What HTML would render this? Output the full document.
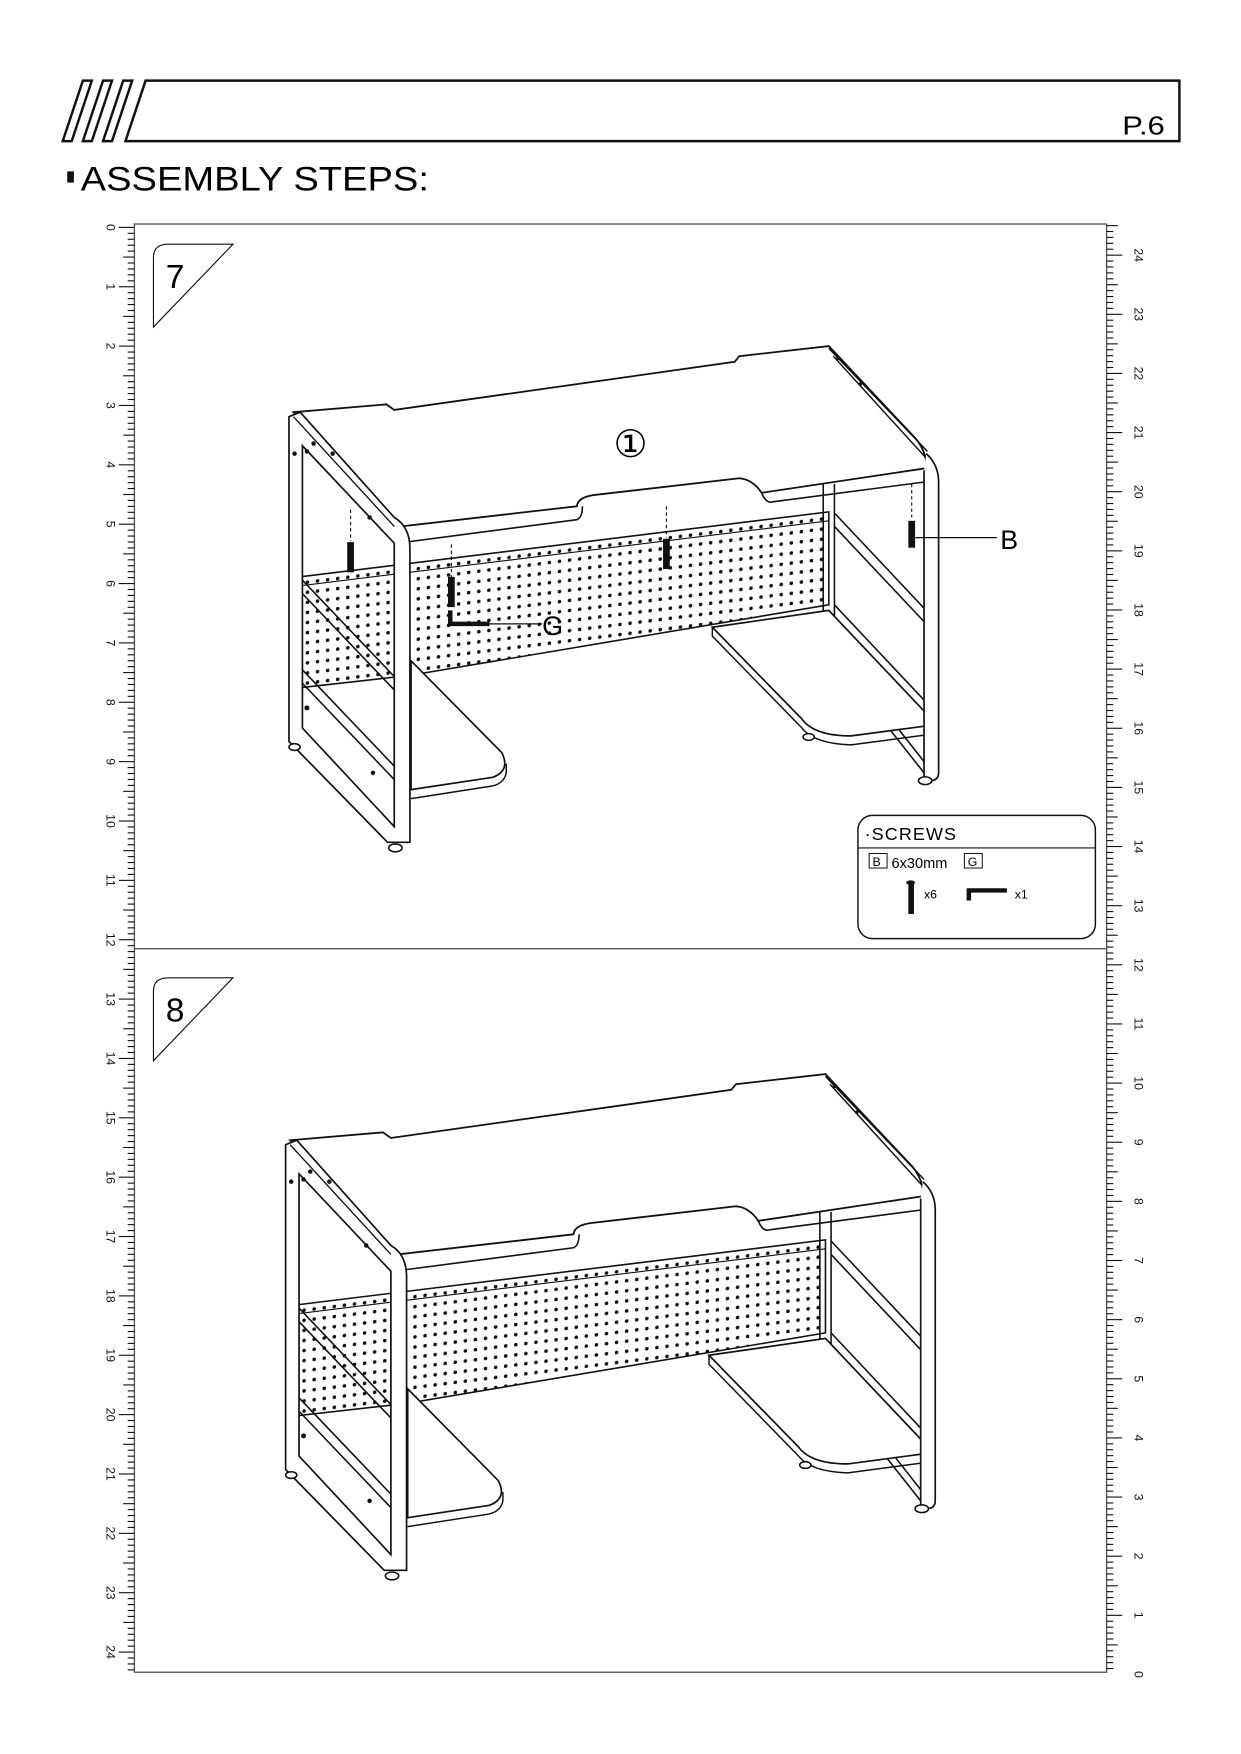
<!DOCTYPE html>
<html><head><meta charset="utf-8">
<style>
html,body{margin:0;padding:0;background:#fff;}
svg{display:block;}
text{font-family:"Liberation Sans",sans-serif;}
</style></head>
<body>
<svg id="s" width="1241" height="1754" viewBox="0 0 1108 1566" xmlns="http://www.w3.org/2000/svg">
<defs>
<pattern id="dots" width="9" height="9" patternUnits="userSpaceOnUse" patternTransform="skewY(-7)">
<circle cx="4.5" cy="4.5" r="1.6" fill="#111"/>
</pattern>
<g id="desk">
 <polygon points="268,515 740,457 740,540 366,603 268,614" fill="url(#dots)" stroke="#111" stroke-width="1.4"/>
 <line x1="268" y1="523" x2="740" y2="465" stroke="#111" stroke-width="1"/>
 <path d="M735,432 L735,640 M745,432 L745,640" stroke="#111" stroke-width="1.4" fill="none"/>
 <path d="M745,458 L825,543 M745,470 L825,555 M745,540 L825,625 M745,552 L825,637 M795,652 L825,690 M803,652 L825,680" stroke="#111" stroke-width="1.4" fill="none"/>
 <path d="M636,560 L740,545 L828,638 L828,648 L760,657 Q727,657 716,642 Z" fill="#fff" stroke="#111" stroke-width="1.5"/>
 <path d="M636,560 L636,568 L716,650 Q727,664 760,665 L828,656" fill="none" stroke="#111" stroke-width="1.3"/>
 <path d="M367,590 L448,672 Q456,688 440,694 L367,705 Z" fill="#fff" stroke="#111" stroke-width="1.5"/>
 <path d="M452,682 L452,690 Q450,700 438,702 L367,713" fill="none" stroke="#111" stroke-width="1.3"/>
 <path d="M262,368 L345,361 L352,366 L656,323 L660,318 L740,309 L818,392 Q828,405 827,418 L680,440 Q672,428 660,427 L530,442 Q516,444 515,452 L358,470 Z" fill="#fff" stroke="#111" stroke-width="1.6"/>
 <path d="M358,470 L362,484 L515,464 Q520,462 520,452 M680,440 Q684,450 690,448 L828,430" fill="none" stroke="#111" stroke-width="1.4"/>
 <path d="M827,405 Q838,415 838,430 L838,690 Q838,697 830,697 L827,697 Q825,697 825,690 L825,420" fill="#fff" stroke="#111" stroke-width="1.5"/>
 <path d="M740,311 L828,403 M744,318 L826,408" stroke="#111" stroke-width="1.3"/>
 <circle cx="748" cy="320" r="1.6" fill="#111"/><circle cx="768" cy="343" r="1.6" fill="#111"/>
 <path d="M258,372 L258,662 L346,752 L366,752 L366,490 Q366,470 352,462 L268,368 Z M270,398 L270,650 L352,738 L352,485 Z" fill="#fff" fill-rule="evenodd" stroke="#111" stroke-width="1.5"/>
 <path d="M262,372 L352,470" stroke="#111" stroke-width="1.2"/>
 <path d="M270,518 L352,604 M270,530 L352,616 M270,598 L352,684 M270,610 L352,696" stroke="#111" stroke-width="1.4"/>
 <circle cx="274" cy="403" r="2" fill="#111"/><circle cx="297" cy="405" r="2" fill="#111"/><circle cx="280" cy="396" r="2" fill="#111"/>
 <circle cx="330" cy="462" r="2" fill="#111"/><circle cx="274" cy="632" r="2.2" fill="#111"/><circle cx="333" cy="690" r="2" fill="#111"/><circle cx="263" cy="405" r="2" fill="#111"/>
 <ellipse cx="263" cy="667" rx="5" ry="3" fill="#fff" stroke="#111" stroke-width="1.4"/>
 <ellipse cx="353" cy="757" rx="6" ry="3.5" fill="#fff" stroke="#111" stroke-width="1.4"/>
 <ellipse cx="722" cy="658" rx="5" ry="3" fill="#fff" stroke="#111" stroke-width="1.4"/>
 <ellipse cx="826" cy="697" rx="6" ry="3.5" fill="#fff" stroke="#111" stroke-width="1.4"/>
</g>
</defs>

<!-- header -->
<g fill="#fff" stroke="#111" stroke-width="2.2">
<polygon points="130,72 1053,72 1053,126 112,126"/>
<polygon points="74,72 82,72 64,126 56,126"/>
<polygon points="92,72 100,72 82,126 74,126"/>
<polygon points="110,72 118,72 100,126 92,126"/>
</g>
<text x="1040" y="120" font-size="23" text-anchor="end" textLength="38" lengthAdjust="spacingAndGlyphs">P.6</text>
<rect x="60" y="153" width="6" height="10" fill="#111"/>
<text x="72" y="170" font-size="31" textLength="311" lengthAdjust="spacingAndGlyphs">ASSEMBLY STEPS:</text>

<rect x="120" y="200" width="868" height="1293" fill="none" stroke="#555" stroke-width="1.2"/>
<line x1="120" y1="847" x2="988" y2="847" stroke="#555" stroke-width="1.2"/>
<g id="ticks" stroke="#111" stroke-width="1"></g>
<g id="nums" font-size="11" fill="#111"></g>

<path d="M137,292 L137,230 Q137,218 150,218 L208,218 Z" fill="none" stroke="#111" stroke-width="1"/>
<text x="148" y="257" font-size="30">7</text>
<path d="M137,947 L137,885 Q137,873 150,873 L208,873 Z" fill="none" stroke="#111" stroke-width="1"/>
<text x="148" y="912" font-size="30">8</text>

<use href="#desk"/>
<use href="#desk" transform="translate(-3,650)"/>
<text x="563" y="408" font-size="34" text-anchor="middle">①</text>

<g stroke="#111" stroke-width="1" stroke-dasharray="3,2.5">
<line x1="313" y1="455" x2="313" y2="483"/>
<line x1="403" y1="486" x2="403" y2="515"/>
<line x1="595" y1="452" x2="595" y2="480"/>
<line x1="814" y1="432" x2="814" y2="462"/>
</g>
<g fill="#111">
<rect x="310" y="484" width="6" height="27"/>
<rect x="400" y="515" width="6" height="27"/>
<rect x="592" y="481" width="6" height="27"/>
<rect x="811" y="465" width="6" height="24"/>
</g>
<line x1="817" y1="480" x2="890" y2="480" stroke="#111" stroke-width="1.2"/>
<text x="893" y="490" font-size="24">B</text>
<path d="M402,545 L402,557 L437,557" fill="none" stroke="#111" stroke-width="4"/>
<line x1="437" y1="557" x2="484" y2="557" stroke="#111" stroke-width="1.2"/>
<text x="484" y="567" font-size="24">G</text>

<rect x="766" y="728" width="212" height="110" rx="13" fill="#fff" stroke="#111" stroke-width="1.3"/>
<line x1="766" y1="757" x2="978" y2="757" stroke="#111" stroke-width="1"/>
<text x="772" y="750" font-size="16" letter-spacing="1">·SCREWS</text>
<rect x="776" y="762" width="16" height="13" fill="none" stroke="#111" stroke-width="0.9"/>
<text x="779" y="773" font-size="11">B</text>
<text x="796" y="775" font-size="13">6x30mm</text>
<rect x="861" y="762" width="16" height="13" fill="none" stroke="#111" stroke-width="0.9"/>
<text x="864" y="773" font-size="11">G</text>
<ellipse cx="813" cy="788" rx="4" ry="2" fill="#111"/>
<rect x="811" y="788" width="5" height="28" fill="#111"/>
<text x="825" y="802" font-size="11">x6</text>
<path d="M865,804 L865,795 L899,795" fill="none" stroke="#111" stroke-width="4"/>
<text x="906" y="802" font-size="11">x1</text>

<script>
var ns="http://www.w3.org/2000/svg",t=document.getElementById('ticks'),n=document.getElementById('nums');
function L(x1,y1,x2,y2){var l=document.createElementNS(ns,'line');l.setAttribute('x1',x1);l.setAttribute('y1',y1);l.setAttribute('x2',x2);l.setAttribute('y2',y2);t.appendChild(l);}
function T(x,y,s){var e=document.createElementNS(ns,'text');e.setAttribute('x',0);e.setAttribute('y',0);e.setAttribute('text-anchor','middle');e.setAttribute('transform','translate('+x+','+y+') rotate(90)');e.textContent=s;n.appendChild(e);}
var sp=53.0;
for(var i=0;i<=245;i++){var y=203+i*sp/10;if(y>1493)break;var len=(i%10==0)?14:(i%5==0?10:6);L(120-len,y,120,y);if(i%10==0)T(95,y,i/10);}
var sp2=52.8;
for(var i=0;i<=245;i++){var y=1495-i*sp2/10;if(y<200)break;if(y>1493)continue;var len=(i%10==0)?14:(i%5==0?10:6);L(988,y,988+len,y);}
for(var k=0;k<=24;k++){var y=1495-k*sp2;T(1013,y,k);}
</script>
</svg>
</body></html>
